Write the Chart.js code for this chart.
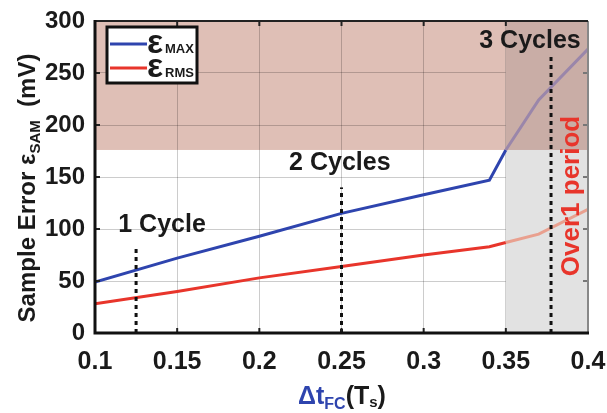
<!DOCTYPE html>
<html><head><meta charset="utf-8">
<script src="https://cdn.jsdelivr.net/npm/chart.js@4"></script>
<style>html,body{margin:0;padding:0;background:#fff}#wrap{width:607px;height:413px}</style>
</head><body><div id="wrap"><canvas id="c" width="607" height="413"></canvas></div>
<script>
// ---- data ----
const dtFC   = [0.10, 0.15, 0.20, 0.25, 0.30, 0.34, 0.35, 0.37, 0.40];
const errMax = [49, 72, 93, 115, 133, 147, 176, 224, 273];
const errRms = [28, 40, 53, 64, 75, 83, 87, 95, 119];
const xTicks = [0.1, 0.15, 0.2, 0.25, 0.3, 0.35, 0.4];
const yTicks = [0, 50, 100, 150, 200, 250, 300];
const cycleX = [0.125, 0.25, 0.3775];
const cycleTop = [83, 140, 268];
const cycleLabels = ['1 Cycle', '2 Cycles', '3 Cycles'];
const cycleLabelX = [0.1408, 0.249, 0.3647];
const cycleLabelY = [104, 163, 281];
const bandY = [176, 300];          // shaded error band
const overPeriodX = [0.35, 0.40];  // "Over 1 period" region
const overPeriodText = 'Over1 period';

const FONT = '"Liberation Sans", Arial, sans-serif';
const BLUE = '#2E44AE', BLUE_L = '#9A86AA';
const RED = '#E8352B', RED_L = '#E9A08F';
const TXT = '#1a1a1a';

const cycleSets = cycleX.map((x, i) => ({
  data: [{x: x, y: 0}, {x: x, y: cycleTop[i]}],
  borderColor: '#111', borderWidth: 3, borderDash: [4, 4], pointRadius: 0, fill: false
}));

const deco = {
  id: 'deco',
  beforeDraw(chart) {
    const {ctx, chartArea: a, scales: {x, y}} = chart;
    ctx.save();
    ctx.fillStyle = '#DFBFB6';
    ctx.fillRect(a.left, y.getPixelForValue(bandY[1]), a.right - a.left,
      y.getPixelForValue(bandY[0]) - y.getPixelForValue(bandY[1]));
    ctx.restore();
  },
  beforeDatasetsDraw(chart) {
    const {ctx, chartArea: a, scales: {x, y}} = chart;
    const x0 = x.getPixelForValue(overPeriodX[0]), x1 = x.getPixelForValue(overPeriodX[1]);
    const yb0 = y.getPixelForValue(bandY[0]), yb1 = y.getPixelForValue(bandY[1]);
    ctx.save();
    ctx.fillStyle = '#E2E2E2';
    ctx.fillRect(x0, a.top, x1 - x0, a.bottom - a.top);
    ctx.fillStyle = '#C9ADA6';
    ctx.fillRect(x0, yb1, x1 - x0, yb0 - yb1);
    ctx.restore();
  },
  afterDatasetsDraw(chart) {
    const {ctx, chartArea: a, scales: {x, y}} = chart;
    ctx.save();
    // ticks inward
    ctx.lineWidth = 2;
    xTicks.forEach(v => {
      const px = x.getPixelForValue(v);
      ctx.strokeStyle = '#222';
      ctx.beginPath(); ctx.moveTo(px, a.bottom); ctx.lineTo(px, a.bottom - 5); ctx.stroke();
      ctx.beginPath(); ctx.moveTo(px, a.top); ctx.lineTo(px, a.top + 5); ctx.stroke();
    });
    yTicks.forEach(v => {
      const py = y.getPixelForValue(v);
      ctx.strokeStyle = '#222';
      ctx.beginPath(); ctx.moveTo(a.left, py); ctx.lineTo(a.left + 5, py); ctx.stroke();
      ctx.strokeStyle = '#777';
      ctx.beginPath(); ctx.moveTo(a.right, py); ctx.lineTo(a.right - 5, py); ctx.stroke();
    });
    // borders
    ctx.strokeStyle = '#888'; ctx.lineWidth = 2;
    ctx.beginPath(); ctx.moveTo(a.right, a.top); ctx.lineTo(a.right, a.bottom); ctx.stroke();
    ctx.strokeStyle = '#222'; ctx.lineWidth = 2;
    ctx.beginPath(); ctx.moveTo(a.left, a.top); ctx.lineTo(a.right, a.top); ctx.stroke();
    ctx.strokeStyle = '#111'; ctx.lineWidth = 3;
    ctx.beginPath(); ctx.moveTo(a.left, a.top - 1); ctx.lineTo(a.left, a.bottom); ctx.lineTo(a.right + 1, a.bottom); ctx.stroke();

    // cycle labels
    ctx.fillStyle = TXT; ctx.font = 'bold 25px ' + FONT;
    ctx.textAlign = 'center'; ctx.textBaseline = 'middle';
    cycleLabels.forEach((t, i) => ctx.fillText(t, x.getPixelForValue(cycleLabelX[i]), y.getPixelForValue(cycleLabelY[i])));

    // over 1 period
    ctx.save();
    ctx.translate(572, 196); ctx.rotate(-Math.PI / 2);
    ctx.fillStyle = RED; ctx.font = 'bold 26px ' + FONT;
    ctx.fillText(overPeriodText, 0, 0);
    ctx.restore();

    // legend
    ctx.fillStyle = '#fff'; ctx.fillRect(107, 27, 90, 56);
    ctx.strokeStyle = '#111'; ctx.lineWidth = 3; ctx.strokeRect(107, 27, 90, 56);
    [[BLUE, 'MAX', 44], [RED, 'RMS', 68]].forEach(([c, s, ly]) => {
      ctx.strokeStyle = c; ctx.lineWidth = 3;
      ctx.beginPath(); ctx.moveTo(110, ly); ctx.lineTo(147, ly); ctx.stroke();
      ctx.fillStyle = TXT; ctx.textAlign = 'left'; ctx.textBaseline = 'alphabetic';
      ctx.font = 'bold 34px ' + FONT; ctx.fillText('ε', 147, ly + 9);
      ctx.font = 'bold 13px ' + FONT; ctx.fillText(s, 165, ly + 9);
    });

    // y title
    ctx.save();
    ctx.translate(35, 188); ctx.rotate(-Math.PI / 2);
    const parts = [['Sample Error ε', 24, 0], ['SAM', 15, 5], ['  (mV)', 24, 0]];
    let tot = 0;
    parts.forEach(p => { ctx.font = 'bold ' + p[1] + 'px ' + FONT; tot += ctx.measureText(p[0]).width; });
    let cx = -tot / 2;
    ctx.fillStyle = TXT; ctx.textAlign = 'left'; ctx.textBaseline = 'alphabetic';
    parts.forEach(p => { ctx.font = 'bold ' + p[1] + 'px ' + FONT; ctx.fillText(p[0], cx, p[2]); cx += ctx.measureText(p[0]).width; });
    ctx.restore();

    // x title
    const xp = [['Δt', 25, 0, BLUE], ['FC', 16, 5, BLUE], ['(T', 25, 0, TXT], ['s', 15, 3, TXT], [')', 25, 0, TXT]];
    tot = 0;
    xp.forEach(p => { ctx.font = 'bold ' + p[1] + 'px ' + FONT; tot += ctx.measureText(p[0]).width; });
    cx = 342 - tot / 2;
    ctx.textAlign = 'left'; ctx.textBaseline = 'alphabetic';
    xp.forEach(p => { ctx.font = 'bold ' + p[1] + 'px ' + FONT; ctx.fillStyle = p[3]; ctx.fillText(p[0], cx, 404 + p[2]); cx += ctx.measureText(p[0]).width; });
    ctx.restore();
  }
};

new Chart(document.getElementById('c'), {
  type: 'line',
  data: {
    datasets: [
      ...cycleSets,
      { label: 'εMAX', data: dtFC.map((v, i) => ({x: v, y: errMax[i]})), borderColor: BLUE, borderWidth: 3, pointRadius: 0,
        segment: { borderColor: c => c.p0.parsed.x >= overPeriodX[0] - 1e-6 ? BLUE_L : BLUE } },
      { label: 'εRMS', data: dtFC.map((v, i) => ({x: v, y: errRms[i]})), borderColor: RED, borderWidth: 3, pointRadius: 0,
        segment: { borderColor: c => c.p0.parsed.x >= overPeriodX[0] - 1e-6 ? RED_L : RED } }
    ]
  },
  options: {
    responsive: false, animation: false, devicePixelRatio: 1,
    layout: { padding: { top: 21, right: 19, left: 0, bottom: 0 } },
    plugins: { legend: { display: false }, tooltip: { enabled: false } },
    scales: {
      x: { type: 'linear', min: 0.1, max: 0.4,
        afterBuildTicks: s => { s.ticks = xTicks.map(v => ({value: v})); },
        afterFit: s => { s.height = 80; s.paddingLeft = 0; s.paddingRight = 0; },
        grid: { color: 'rgba(0,0,0,0.2)', lineWidth: 1, drawTicks: false },
        border: { display: false },
        ticks: { color: TXT, font: { family: FONT, size: 25, weight: 'bold' }, padding: 14, maxRotation: 0,
          callback: v => String(+(+v).toFixed(2)) } },
      y: { min: 0, max: 300,
        afterBuildTicks: s => { s.ticks = yTicks.map(v => ({value: v})); },
        afterFit: s => { s.width = 95; s.paddingTop = 0; s.paddingBottom = 0; },
        grid: { color: 'rgba(0,0,0,0.2)', lineWidth: 1, drawTicks: false },
        border: { display: false },
        ticks: { color: TXT, font: { family: FONT, size: 24, weight: 'bold' }, padding: 10 } }
    }
  },
  plugins: [deco]
});
</script></body></html>
